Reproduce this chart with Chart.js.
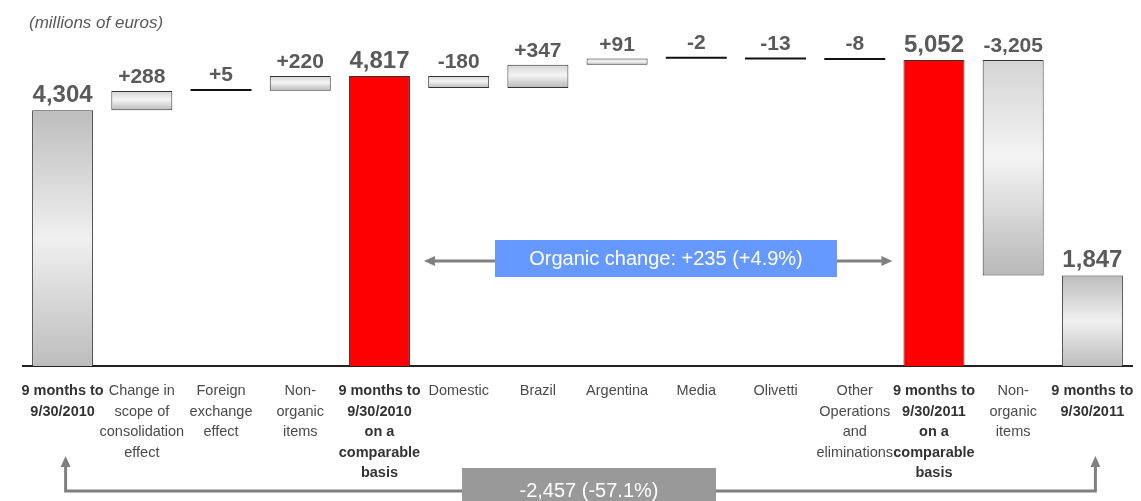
<!DOCTYPE html>
<html>
<head>
<meta charset="utf-8">
<script src="https://cdn.jsdelivr.net/npm/chart.js@4.4.0/dist/chart.umd.min.js"></script>
<style>
html, body { margin: 0; padding: 0; background: #fff; }
</style>
</head>
<body>
<canvas id="myChart" width="1141" height="501"></canvas>
<script>
// Categorías (etiquetas del eje x, en varias líneas)
var categories = [
    ['9 months to', '9/30/2010'],
    ['Change in', 'scope of', 'consolidation', 'effect'],
    ['Foreign', 'exchange', 'effect'],
    ['Non-', 'organic', 'items'],
    ['9 months to', '9/30/2010', 'on a', 'comparable', 'basis'],
    ['Domestic'],
    ['Brazil'],
    ['Argentina'],
    ['Media'],
    ['Olivetti'],
    ['Other', 'Operations', 'and', 'eliminations'],
    ['9 months to', '9/30/2011', 'on a', 'comparable', 'basis'],
    ['Non-', 'organic', 'items'],
    ['9 months to', '9/30/2011']
];
// Valores: totales y variaciones (millones de euros)
var values = [4304, 288, 5, 220, 4817, -180, 347, 91, -2, -13, -8, 5052, -3205, 1847];
var barTypes = ['total', 'delta', 'delta', 'delta', 'comparable', 'delta', 'delta', 'delta',
                'delta', 'delta', 'delta', 'comparable', 'delta', 'total'];
var unitNote = '(millions of euros)';
var organicNote = 'Organic change: +235 (+4.9%)';
var totalNote = '-2,457 (-57.1%)';

var FONT = '"Liberation Sans", Arial, sans-serif';

// Barras flotantes del waterfall
var floating = [];
var running = 0;
values.forEach(function(v, i) {
    if (barTypes[i] === 'delta') {
        floating.push([running, running + v]);
        running += v;
    } else {
        floating.push([0, v]);
        running = v;
    }
});

function isTiny(i) {
    return barTypes[i] === 'delta' && Math.abs(values[i]) < 20;
}

function fmt(i) {
    var s = Math.abs(values[i]).toLocaleString('en-US');
    if (barTypes[i] === 'delta') return (values[i] >= 0 ? '+' : '-') + s;
    return s;
}

function arrowHead(c, x, y, dir) {
    // dir: 'left', 'right', 'up'
    c.beginPath();
    if (dir === 'left') { c.moveTo(x, y); c.lineTo(x + 11, y - 5); c.lineTo(x + 11, y + 5); }
    if (dir === 'right') { c.moveTo(x, y); c.lineTo(x - 11, y - 5); c.lineTo(x - 11, y + 5); }
    if (dir === 'up') { c.moveTo(x, y); c.lineTo(x - 5, y + 11); c.lineTo(x + 5, y + 11); }
    c.closePath();
    c.fill();
}

var annotations = {
    id: 'annotations',
    afterDraw: function(chart) {
        var c = chart.ctx;
        var meta = chart.getDatasetMeta(0);
        c.save();

        // unidad
        c.fillStyle = '#595959';
        c.font = 'italic 17px ' + FONT;
        c.textAlign = 'left';
        c.textBaseline = 'alphabetic';
        c.fillText(unitNote, 29, 28);

        // etiquetas de valor
        c.textAlign = 'center';
        meta.data.forEach(function(bar, i) {
            var top = Math.min(bar.y, bar.base);
            c.font = 'bold ' + (barTypes[i] === 'delta' ? 21 : 24) + 'px ' + FONT;
            c.fillStyle = '#5a5a5a';
            c.fillText(fmt(i), bar.x, top - 8);
        });

        // flecha de cambio orgánico
        var b1 = meta.data[4], b2 = meta.data[11];
        var xl = b1.x + b1.width / 2 + 14;
        var xr = b2.x - b2.width / 2 - 11;
        var ya = 261;
        c.strokeStyle = '#808080';
        c.fillStyle = '#808080';
        c.lineWidth = 3;
        c.beginPath();
        c.moveTo(xl + 6, ya);
        c.lineTo(xr - 6, ya);
        c.stroke();
        arrowHead(c, xl, ya, 'left');
        arrowHead(c, xr, ya, 'right');
        c.fillStyle = '#6699ff';
        c.fillRect(495, 240, 342, 37);
        c.fillStyle = '#ffffff';
        c.font = '20px ' + FONT;
        c.textBaseline = 'middle';
        c.fillText(organicNote, 666, 259);

        // corchete inferior
        var x0 = meta.data[0].x + 3;
        var x1 = meta.data[13].x + 3;
        var yb = 491;
        c.strokeStyle = '#808080';
        c.fillStyle = '#808080';
        c.beginPath();
        c.moveTo(x0, 464);
        c.lineTo(x0, yb);
        c.lineTo(x1, yb);
        c.lineTo(x1, 464);
        c.stroke();
        arrowHead(c, x0, 456, 'up');
        arrowHead(c, x1, 456, 'up');
        c.fillStyle = '#999999';
        c.fillRect(462, 468, 254, 40);
        c.fillStyle = '#ffffff';
        c.fillText(totalNote, 589, 491);

        c.restore();
    }
};

var ctx = document.getElementById('myChart').getContext('2d');
var myChart = new Chart(ctx, {
    type: 'bar',
    data: {
        labels: categories,
        datasets: [{
            data: floating,
            backgroundColor: function(context) {
                var i = context.dataIndex;
                if (i === undefined) return '#cccccc';
                if (barTypes[i] === 'comparable') return '#ff0000';
                if (isTiny(i)) return '#111111';
                var y = context.chart.scales.y;
                if (!y) return '#cccccc';
                var r = floating[i];
                var top = y.getPixelForValue(Math.max(r[0], r[1]));
                var bot = y.getPixelForValue(Math.max(Math.min(r[0], r[1]), y.min));
                if (!isFinite(top) || !isFinite(bot) || bot - top < 1) return '#cccccc';
                var g = context.chart.ctx.createLinearGradient(0, top, 0, bot);
                if (barTypes[i] === 'total') {
                    g.addColorStop(0, '#bdbdbd');
                    g.addColorStop(0.5, '#f0f0f0');
                    g.addColorStop(1, '#bdbdbd');
                } else {
                    g.addColorStop(0, '#d4d4d4');
                    g.addColorStop(0.45, '#f4f4f4');
                    g.addColorStop(1, '#b8b8b8');
                }
                return g;
            },
            borderColor: '#333333',
            borderWidth: function(context) {
                return isTiny(context.dataIndex) ? 0 : 1;
            },
            borderSkipped: false,
            minBarLength: 2,
            barPercentage: 0.77,
            categoryPercentage: 1
        }]
    },
    options: {
        responsive: false,
        animation: false,
        layout: {
            padding: { left: 23, right: 9, top: 30, bottom: 0 }
        },
        scales: {
            x: {
                grid: { display: false, drawTicks: false },
                border: { display: true, color: '#222222', width: 2 },
                ticks: {
                    autoSkip: false,
                    maxRotation: 0,
                    minRotation: 0,
                    padding: 15,
                    color: function(c) {
                        return barTypes[c.index] === 'delta' ? '#4a4a4a' : '#333333';
                    },
                    font: function(c) {
                        return {
                            family: FONT,
                            size: 14.5,
                            weight: barTypes[c.index] === 'delta' ? 'normal' : 'bold',
                            lineHeight: 1.41
                        };
                    }
                },
                afterFit: function(s) {
                    s.height = 135;
                    s.paddingLeft = 0;
                    s.paddingRight = 0;
                }
            },
            y: {
                display: false,
                min: 500,
                max: 5500
            }
        },
        plugins: {
            legend: { display: false },
            tooltip: { enabled: false }
        }
    },
    plugins: [annotations]
});
</script>
</body>
</html>
